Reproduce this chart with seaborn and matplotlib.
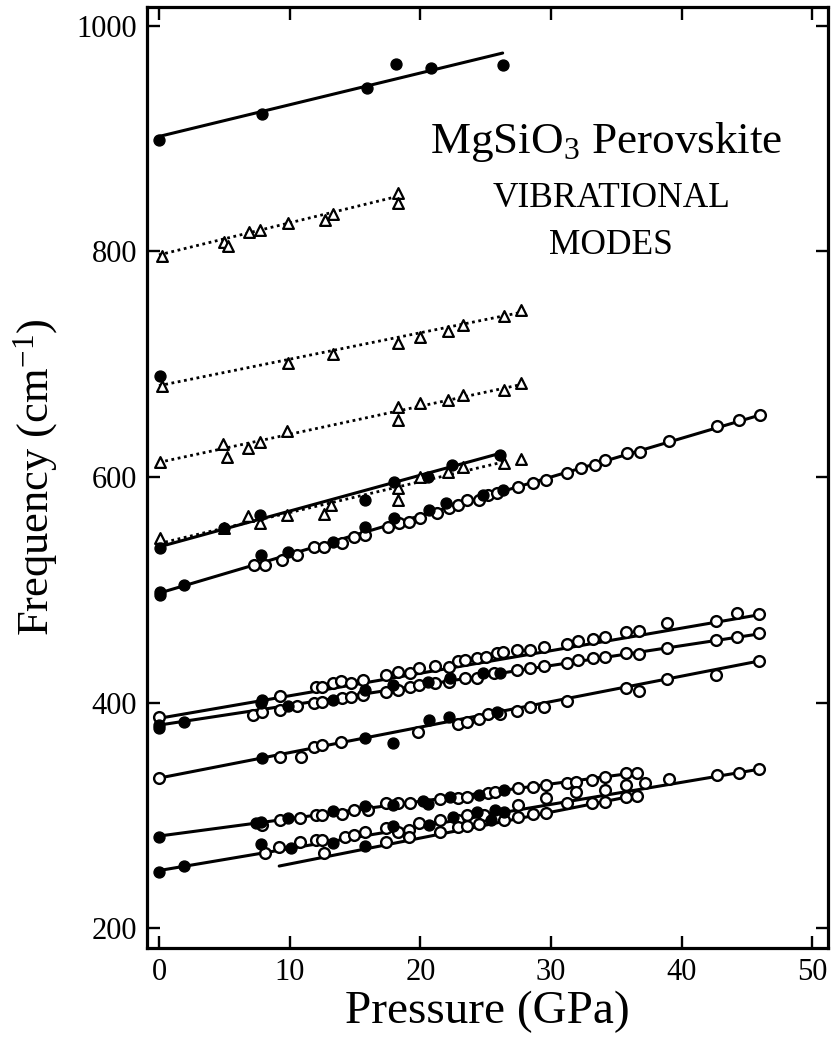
import matplotlib
matplotlib.use("Agg")
import matplotlib.pyplot as plt
import seaborn as sns
import pandas as pd

# ---- measured Raman frequencies (cm^-1) versus pressure (GPa) ----
# filled circles
filled_p = [0, 7.9, 15.9, 18.1, 20.8, 26.3,
            0.1,
            0.1, 5.0, 7.7, 15.8, 18.0, 20.6, 22.4, 26.1,
            0.1, 0.1, 1.9, 7.8, 9.9, 13.3, 15.8, 18.0, 20.7, 22.0, 24.8, 26.3,
            7.9,
            0.0, 0.0, 1.9, 7.8, 9.9, 13.3, 15.8, 17.9, 20.6, 22.3, 24.8, 26.1,
            7.9, 15.8, 17.9, 20.7, 22.2, 25.9,
            0.0, 7.4, 7.8, 9.9, 13.3, 15.8, 17.9, 20.2, 20.6, 22.3, 24.5, 26.4,
            0.0, 1.9, 7.8, 10.1, 13.3, 17.9, 20.7, 22.5, 24.3, 25.7, 26.4,
            15.8, 25.4]
filled_f = [899, 922, 945, 966, 963, 965,
            690,
            536.7, 554.8, 566.3, 579.6, 595.8, 600, 610.6, 619.5,
            498.3, 495.4, 504.2, 530.8, 533.8, 542.6, 555.9, 563.3, 570.7, 576.6, 584.0, 588.4,
            402.2,
            377.1, 380.0, 382.4, 399.3, 397.2, 402.2, 411.1, 415.5, 418.5, 421.4, 425.9, 425.9,
            350.5, 368.2, 364.4, 384.5, 386.9, 391.9,
            281.0, 292.8, 294.3, 297.2, 304.0, 308.5, 309.1, 312.6, 309.9, 315.9, 317.9, 322.4,
            249.9, 254.9, 274.5, 270.6, 275.1, 290.4, 291.3, 298.1, 303.1, 304.6, 303.1,
            272.7, 295.7]

# open circles
open_p = [7.3, 8.1, 9.4, 10.6, 11.9, 12.6, 14.0, 14.9, 15.8, 17.5, 18.4, 19.1, 20.0, 21.3,
          22.2, 22.9, 23.6, 24.5, 25.2, 25.9, 27.5, 28.6, 29.6, 31.2, 32.3, 33.4, 34.1,
          35.8, 36.8, 39.0, 42.7, 44.4, 46.0,
          0.0, 9.3, 12.0, 12.5, 13.3, 13.9, 14.7, 15.6, 17.4, 18.3, 19.2, 19.9, 21.1, 22.2,
          22.9, 23.4, 24.3, 25.0, 25.9, 26.3, 27.4, 28.4, 29.5, 31.2, 32.1, 33.2, 34.1,
          35.7, 36.7, 38.9, 42.6, 44.2, 45.9,
          7.2, 7.9, 9.3, 10.6, 11.9, 12.5, 14.0, 14.7, 15.6, 17.4, 18.3, 19.2, 19.9, 21.1,
          22.2, 23.4, 24.3, 25.6, 27.4, 28.4, 29.5, 31.2, 32.1, 33.2, 34.1, 35.7, 36.7,
          38.9, 42.6, 44.2, 45.9,
          0.0, 9.3, 10.9, 11.9, 12.5, 13.9, 19.8, 22.9, 23.6, 24.5, 25.2, 26.1, 27.4, 28.4,
          29.5, 31.2, 35.7, 36.7, 38.9, 42.6, 45.9,
          7.9, 9.3, 10.8, 12.0, 12.5, 14.0, 14.9, 16.0, 17.4, 18.3, 19.2, 21.5, 22.9, 23.6,
          25.2, 25.7, 27.5, 28.6, 29.6, 31.2, 31.9, 33.1, 34.1, 35.7, 36.6,
          8.1, 9.2, 10.8, 12.0, 12.5, 14.2, 14.9, 15.8, 17.4, 18.3, 19.1, 19.9, 21.5, 22.9,
          23.6, 24.9, 27.5, 29.6, 31.2, 31.9, 34.1, 35.7, 37.2, 39.0, 42.7, 44.4, 45.9,
          12.6, 17.4, 19.1, 21.5, 22.9, 23.6, 24.5, 26.4, 27.5, 28.6, 29.6, 33.1, 34.1,
          35.7, 36.6]
open_f = [521.9, 522.0, 526.4, 530.8, 538.2, 538.2, 541.1, 547.1, 548.5, 555.9, 558.9, 560.4,
          563.3, 567.8, 572.2, 575.2, 579.6, 579.6, 584.0, 585.5, 591.4, 594.4, 597.3, 603.8,
          607.7, 610.6, 615.1, 621.6, 622.5, 632.2, 645.2, 650.5, 655.0,
          387.5, 405.8, 413.5, 414.1, 417.0, 419.4, 417.0, 420.0, 424.4, 427.4, 425.9, 430.3,
          432.4, 431.2, 436.8, 437.7, 439.2, 440.7, 443.6, 445.1, 446.6, 446.6, 449.0, 451.9,
          454.9, 456.3, 458.4, 462.8, 463.7, 470.2, 472.3, 479.7, 478.5,
          388.9, 391.9, 393.4, 397.2, 399.3, 400.8, 403.7, 405.2, 406.7, 409.6, 411.1, 414.1,
          415.5, 417.0, 418.5, 421.4, 421.4, 425.9, 428.8, 430.3, 432.4, 435.3, 437.7, 439.2,
          440.7, 443.6, 442.7, 448.1, 455.4, 457.8, 461.4,
          332.8, 352.0, 352.0, 360.8, 362.3, 365.3, 374.1, 380.9, 383.0, 385.1, 389.8, 389.8,
          392.8, 396.3, 396.3, 401.6, 412.6, 410.5, 420.6, 424.4, 436.8,
          291.3, 295.7, 297.2, 300.2, 300.2, 301.6, 304.6, 304.6, 310.5, 310.5, 310.5, 314.1,
          315.0, 316.4, 319.4, 320.9, 323.8, 324.7, 326.8, 328.3, 329.7, 331.2, 334.2, 337.7,
          337.1,
          266.2, 272.1, 276.5, 278.0, 278.0, 280.9, 282.4, 285.4, 288.4, 285.4, 286.9, 293.4,
          295.7, 295.7, 300.2, 300.2, 309.1, 315.0, 310.5, 320.3, 322.4, 326.8, 328.9, 331.8,
          335.7, 337.1, 340.7,
          266.2, 276.5, 281.0, 285.4, 289.2, 290.4, 292.2, 295.7, 298.7, 301.1, 302.3, 310.5,
          312.0, 315.9, 317.0]

# open triangles
tri_p = [0.2, 5.0, 5.3, 6.9, 7.7, 9.9, 12.7, 13.3, 18.3, 18.3,
         0.2, 9.9, 13.3, 18.3, 20.0, 22.1, 23.3, 26.4, 27.7,
         0.1, 4.9, 5.2, 6.8, 7.7, 9.8, 18.3, 18.3, 20.0, 22.1, 23.3, 26.4, 27.7,
         0.1, 5.0, 6.8, 7.7, 9.8, 12.6, 13.2, 18.3, 18.3, 20.0, 22.1, 23.3, 26.4, 27.7]
tri_f = [796, 808, 805, 817, 819, 825, 828, 833, 852, 843,
         681, 701, 709, 718.6, 724.6, 729.5, 734.8, 743, 747.7,
         613.5, 629, 618, 625.5, 631, 641, 662.4, 651, 666, 668, 673, 677, 683.6,
         545.5, 554.5, 565.4, 559, 566.3, 567, 575, 579.6, 590, 600, 604.7, 608.6, 612, 616]

# linear pressure fits of each mode: start/end pressure and frequency
fit_p0 = [0, 0, 0, 0, 0, 0, 0, 0, 0, 0, 0, 0, 9.2]
fit_p1 = [26.3, 18.3, 27.7, 27.7, 26.4, 26.1, 46, 46, 46, 46, 36.6, 46, 36.6]
fit_f0 = [902, 797, 681, 613, 541, 538, 497, 386, 380, 333, 281.6, 251, 255]
fit_f1 = [976, 849, 746, 682, 613.5, 621, 655, 478, 461, 437, 338, 341, 318]
fit_dotted = [False, True, True, True, True, False, False, False, False, False, False, False, False]

x_ticks = [0, 10, 20, 30, 40, 50]
y_ticks = [200, 400, 600, 800, 1000]

# ---- style ----
sns.set_style("ticks")
plt.rcParams["font.family"] = ["Liberation Serif", "DejaVu Serif"]
plt.rcParams["mathtext.fontset"] = "custom"
plt.rcParams["mathtext.rm"] = "Liberation Serif"
plt.rcParams["mathtext.it"] = "Liberation Serif:italic"
for key in ["text.color", "axes.labelcolor", "xtick.color", "ytick.color", "axes.edgecolor"]:
    plt.rcParams[key] = "black"

fig = plt.figure(figsize=(8.31, 10.37), dpi=100)
ax = fig.add_axes([0.1765, 0.0858, 0.8200, 0.9072])

# fit lines
for p0, p1, f0, f1, dotted in zip(fit_p0, fit_p1, fit_f0, fit_f1, fit_dotted):
    seg = pd.DataFrame({"p": [p0, p1], "f": [f0, f1]})
    sns.lineplot(data=seg, x="p", y="f", ax=ax, color="black",
                 linewidth=2.0 if dotted else 2.2,
                 linestyle=(0, (1.0, 1.3)) if dotted else "-",
                 zorder=2, legend=False)

# data points
sns.scatterplot(x=open_p, y=open_f, ax=ax, marker="o", s=60,
                color="white", edgecolor="black", linewidth=1.7, zorder=3)
sns.scatterplot(x=tri_p, y=tri_f, ax=ax, marker="^", s=60,
                color="white", edgecolor="black", linewidth=1.6, zorder=3)
sns.scatterplot(x=filled_p, y=filled_f, ax=ax, marker="o", s=62,
                color="black", edgecolor="black", linewidth=1.0, zorder=4)

ax.set_xlim(-0.94, 51.2)
ax.set_ylim(182.3, 1016.6)
ax.set_xticks(x_ticks)
ax.set_yticks(y_ticks)
ax.tick_params(direction="in", length=9, width=1.7, top=True, right=True,
               labelsize=22, pad=7, colors="black")
for sp in ax.spines.values():
    sp.set_linewidth(2.3)
    sp.set_visible(True)
    sp.set_color("black")

ax.set_xlabel("Pressure (GPa)", fontsize=34, labelpad=3)
ax.set_ylabel("Frequency (cm$^{\\mathrm{-1}}$)", fontsize=32, labelpad=12)

ax.text(34.2, 897, "MgSiO$_3$ Perovskite", fontsize=32.5, ha="center", va="center")
ax.text(34.6, 847, "VIBRATIONAL", fontsize=25.5, ha="center", va="center")
ax.text(34.6, 805, "MODES", fontsize=25.5, ha="center", va="center")

fig.savefig("out.png", dpi=100)
